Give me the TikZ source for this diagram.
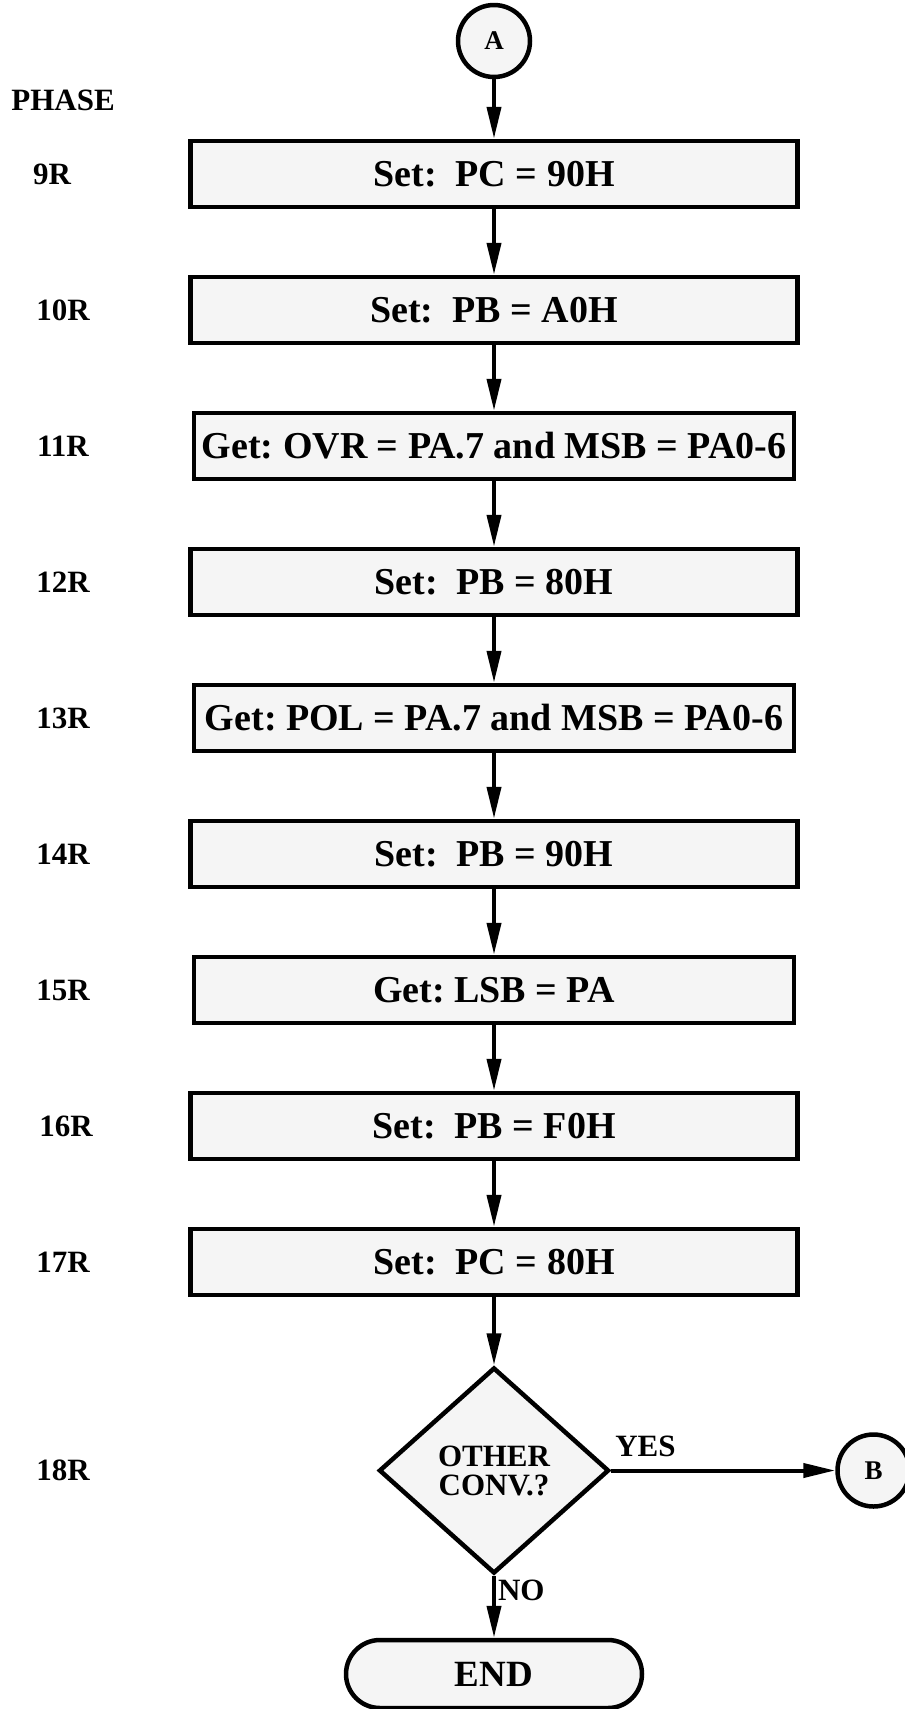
\documentclass[tikz,border=0pt]{standalone}
\usepackage{fontspec}
\setmainfont{Liberation Serif}
\usetikzlibrary{positioning,arrows.meta,shapes.geometric}
\definecolor{boxfill}{HTML}{F5F5F5}
\frenchspacing
\tikzset{
  stepbox/.style={rectangle, draw=black, fill=boxfill, line width=4.5pt,
              minimum width=607pt, minimum height=66pt, inner sep=0pt,
              font=\fontsize{38}{40}\selectfont\bfseries},
  getbox/.style={stepbox, minimum width=600pt},
  conn/.style={circle, draw=black, fill=boxfill, line width=4.5pt,
              minimum size=72pt, inner sep=0pt, font=\fontsize{27}{30}\selectfont\bfseries},
  decide/.style={diamond, draw=black, fill=boxfill, line width=4.5pt,
              minimum width=230pt, minimum height=206pt, inner sep=0pt, align=center,
              font=\fontsize{31}{29}\selectfont\bfseries},
  term/.style={rectangle, rounded corners=34pt, draw=black, fill=boxfill, line width=4.5pt,
              minimum width=296pt, minimum height=68pt, font=\fontsize{37}{40}\selectfont\bfseries},
  phase/.style={font=\fontsize{31}{34}\selectfont\bfseries},
  flow/.style={-{Triangle[length=32pt,width=14pt]}, line width=4pt}
}
\begin{document}
\begin{tikzpicture}[x=1pt, y=-1pt, node distance=65.5pt]
\useasboundingbox (0,0) rectangle (905,1709);
\node[conn] (a) at (494,41) {A};
\node[stepbox] (b9) at (494,174) {Set:~~PC = 90H};
\node[stepbox, below=of b9] (b10) {Set:~~PB = A0H};
\node[getbox, below=of b10] (b11) {Get: OVR = PA.7 and MSB = PA0-6};
\node[stepbox, below=of b11] (b12) {Set:~~PB = 80H};
\node[getbox, below=of b12] (b13) {Get: POL = PA.7 and MSB = PA0-6};
\node[stepbox, below=of b13] (b14) {Set:~~PB = 90H};
\node[getbox, below=of b14] (b15) {Get: LSB = PA};
\node[stepbox, below=of b15] (b16) {Set:~~PB = F0H};
\node[stepbox, below=of b16] (b17) {Set:~~PC = 80H};
\node[decide, below=68pt of b17] (dec) {OTHER\\CONV.?};
\node[term, below=62pt of dec] (fin) {END};
\node[conn, right=224pt of dec] (b) {B};
% phase column
\coordinate (lx) at (63,0);
\node[phase] (ph) at (63,100) {PHASE};
\node[phase, xshift=-11pt] (p9) at (lx |- b9) {9R};
\node[phase] (p10) at (lx |- b10) {10R};
\node[phase] (p11) at (lx |- b11) {11R};
\node[phase] (p12) at (lx |- b12) {12R};
\node[phase] (p13) at (lx |- b13) {13R};
\node[phase] (p14) at (lx |- b14) {14R};
\node[phase] (p15) at (lx |- b15) {15R};
\node[phase, xshift=3pt] (p16) at (lx |- b16) {16R};
\node[phase] (p17) at (lx |- b17) {17R};
\node[phase] (p18) at (lx |- dec) {18R};
% connectors
\draw[flow] (a)--(b9); \draw[flow] (b9)--(b10); \draw[flow] (b10)--(b11);
\draw[flow] (b11)--(b12); \draw[flow] (b12)--(b13); \draw[flow] (b13)--(b14);
\draw[flow] (b14)--(b15); \draw[flow] (b15)--(b16); \draw[flow] (b16)--(b17);
\draw[flow] (b17)--(dec);
\draw[flow] (dec.east)--(b.west) node[pos=0, above right, phase, inner sep=2pt, yshift=10pt] {YES};
\draw[flow] (dec.south)--(fin.north) node[pos=0, below right, phase, inner sep=2pt] {NO};
\end{tikzpicture}
\end{document}
